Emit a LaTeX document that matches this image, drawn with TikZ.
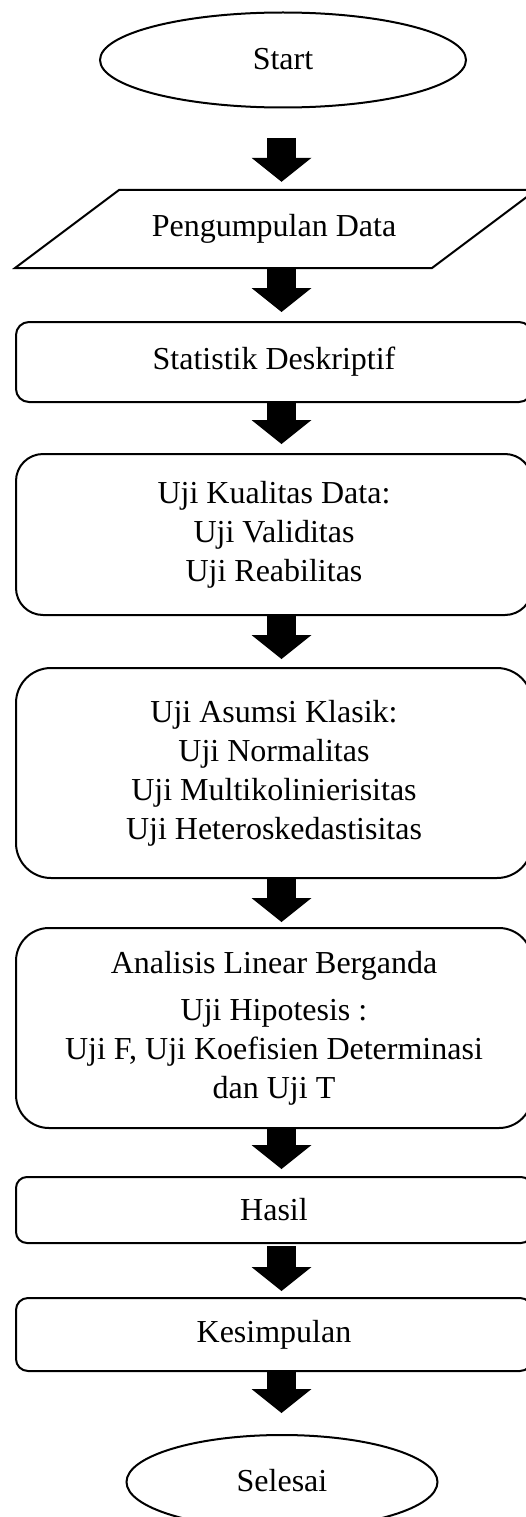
\documentclass[tikz,border=0pt]{standalone}
\usepackage{fontspec}
\setmainfont{Liberation Serif}
\usetikzlibrary{arrows.meta,shapes.geometric,calc}
\begin{document}
\begin{tikzpicture}[x=1pt,y=-1pt,
  lw/.style={line width=2pt},
  txt/.style={font=\fontsize{32}{39}\selectfont,align=center,inner sep=0pt},
  proc/.style={txt,draw,lw,rounded corners=#1,minimum width=516pt},
  term/.style={txt,draw,lw,ellipse},
  barrow/.style={line width=29pt,-{Triangle[width=60pt,length=24pt,line width=0pt]}}
]
\useasboundingbox (0,0) rectangle (526,1517);
\clip (0,0) rectangle (526,1517);
\coordinate (ax) at (281.5,0);

\node[term,minimum width=366pt,minimum height=95pt] (start) at (283,60) {\raisebox{3pt}{Start}};

\draw[lw,fill=white] (119,190) -- (536,190) -- (432,268) -- (15,268) -- cycle;
\node[txt,minimum height=78pt] (pd) at (274,229) {\raisebox{5pt}{Pengumpulan Data}};

\node[proc=13pt,minimum height=80pt] (stat) at (274,362) {\raisebox{3pt}{Statistik Deskriptif}};
\node[proc=27pt,minimum height=161pt] (kual) at (274,534.5) {Uji Kualitas Data:\\ Uji Validitas\\ Uji Reabilitas};
\node[proc=35pt,minimum height=210pt] (asum) at (274,773) {Uji Asumsi Klasik:\\ Uji Normalitas\\ Uji Multikolinierisitas\\ Uji Heteroskedastisitas};
\node[proc=33pt,minimum height=200pt] (anal) at (274,1028) {Analisis Linear Berganda\\[8pt] Uji Hipotesis :\\ Uji F, Uji Koefisien Determinasi\\ dan Uji T};
\node[proc=11pt,minimum height=66pt] (hasil) at (274,1210) {Hasil};
\node[proc=12pt,minimum height=73pt] (kes) at (274,1334.5) {Kesimpulan};
\node[term,minimum width=311pt,minimum height=94pt] (end) at (282,1482) {\raisebox{3pt}{Selesai}};

\draw[barrow] ($(start.south -| ax)+(0,29.5)$) -- ($(pd.north -| ax)+(0,-8)$);
\draw[barrow] (pd.south -| ax) -- ($(stat.north -| ax)+(0,-9)$);
\draw[barrow] (stat.south -| ax) -- ($(kual.north -| ax)+(0,-9)$);
\draw[barrow] (kual.south -| ax) -- ($(asum.north -| ax)+(0,-8)$);
\draw[barrow] (asum.south -| ax) -- ($(anal.north -| ax)+(0,-5)$);
\draw[barrow] (anal.south -| ax) -- ($(hasil.north -| ax)+(0,-7)$);
\draw[barrow] ($(hasil.south -| ax)+(0,2)$) -- ($(kes.north -| ax)+(0,-6)$);
\draw[barrow] (kes.south -| ax) -- ($(end.north -| ax)+(0,-21)$);
\end{tikzpicture}
\end{document}
